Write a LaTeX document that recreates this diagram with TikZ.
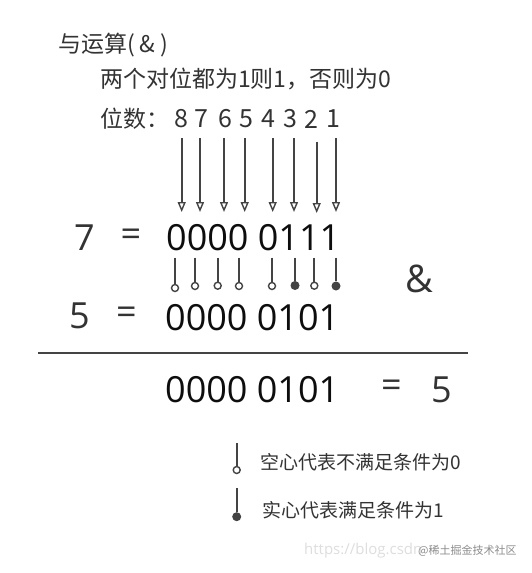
\documentclass[tikz,border=0pt]{standalone}
\usepackage{fontspec}
\setmainfont{Open Sans}
\newfontfamily\cjk{Noto Sans CJK SC}
\usetikzlibrary{arrows.meta}
\definecolor{ink}{HTML}{333333}
\definecolor{lin}{HTML}{444444}
\begin{document}
\begin{tikzpicture}[x=1pt,y=-1pt,
  txt/.style={inner sep=0pt,text=ink},
  cn/.style={txt,font=\cjk\fontsize{23}{23}\selectfont},
  leg/.style={txt,font=\cjk\fontsize{19}{19}\selectfont},
  bitnum/.style={txt,font=\cjk\fontsize{25}{25}\selectfont},
  big/.style={txt,text=black!95,font=\fontsize{36}{36}\selectfont},
  bigsym/.style={txt,font=\fontsize{36}{36}\selectfont},
  bitarrow/.style={draw=lin,line width=1.7pt,-{Triangle[open,width=8pt,length=10pt,line width=1.4pt]}},
  stem/.style={draw=lin,line width=1.7pt},
  hollow/.style={circle,draw=lin,fill=white,line width=1.4pt,inner sep=0pt,minimum size=7pt},
  solid/.style={circle,fill=lin,inner sep=0pt,minimum size=9pt},
  rule/.style={draw=lin,line width=2.2pt},
  wm/.style={inner sep=0pt}
]
\useasboundingbox[fill=white] (0,0) rectangle (532,573);

% header texts
\node[cn,anchor=west] (title) at (58,45) {与运算(\hspace{5pt}\&\hspace{5pt})};
\node[cn,anchor=west] (rule1) at (100,79) {两个对位都为1则1，否则为0};
\node[cn,anchor=west] (pos) at (100,119) {位数：};
\foreach \x/\d [count=\i] in {181.7/8,201.7/7,225/6,246.7/5,268/4,290/3,311.7/2,333/1}{
  \node[bitnum] (d\i) at (\x,119) {\d};
}

% arrows
\foreach \x/\t/\b [count=\i] in {181.7/138/212,200/138/212,224/138/212,244.7/138/212,272.7/138/212,294/138/212,316.7/141.7/213,336/138/212}{
  \coordinate (at\i) at (\x,\t);
  \coordinate (ab\i) at (\x,\b);
  \draw[bitarrow] (at\i) -- (ab\i);
}

% first operand
\node[bigsym,anchor=west] (seven) at (74,237.5) {7};
\node[bigsym,anchor=center] (eq1) at (131,238) {=};
\node[big,anchor=west] (bin7) at (166,237.5) {0000 0111};

% lollipops
\foreach \x/\st/\cy [count=\i] in {175/hollow/288,195/hollow/286,217.7/hollow/285.7,239/hollow/286,272/hollow/286,295/solid/285.5,314.3/hollow/285.7,336/solid/286}{
  \coordinate (lt\i) at (\x,257.7);
  \node[\st] (lc\i) at (\x,\cy) {};
  \draw[stem] (lt\i) -- (lc\i);
}

\node[bigsym,font=\fontsize{38}{38}\selectfont] (amp) at (419,279) {\&};

% second operand
\node[bigsym,anchor=west] (five) at (69,316) {5};
\node[bigsym,anchor=center] (eq2) at (126.5,316) {=};
\node[big,anchor=west] (bin5) at (165,318) {0000 0101};

% rule
\coordinate (rl) at (38,352.7);
\coordinate (rr) at (468,352.7);
\draw[rule] (rl) -- (rr);

% result
\node[big,anchor=west] (res) at (165,389.5) {0000 0101};
\node[bigsym,anchor=center] (eq3) at (391.5,389) {=};
\node[bigsym,anchor=west] (five2) at (431,390) {5};

% legend
\coordinate (g1t) at (236.7,443);
\node[hollow] (g1c) at (236.7,470) {};
\draw[stem] (g1t) -- (g1c);
\node[leg,anchor=west] (g1txt) at (260,462) {空心代表不满足条件为0};
\coordinate (g2t) at (236.7,488);
\node[solid] (g2c) at (236.7,516.7) {};
\draw[stem] (g2t) -- (g2c);
\node[leg,anchor=west] (g2txt) at (262,510) {实心代表满足条件为1};

% watermark
\node[wm,anchor=west,text=black!13,font=\fontsize{15}{15}\selectfont] (wm1) at (304,551) {https://blog.csdn};
\node[wm,anchor=west,text=black!45,font=\cjk\fontsize{11}{11}\selectfont] (wm2) at (418,551) {@稀土掘金技术社区};
\end{tikzpicture}
\end{document}
